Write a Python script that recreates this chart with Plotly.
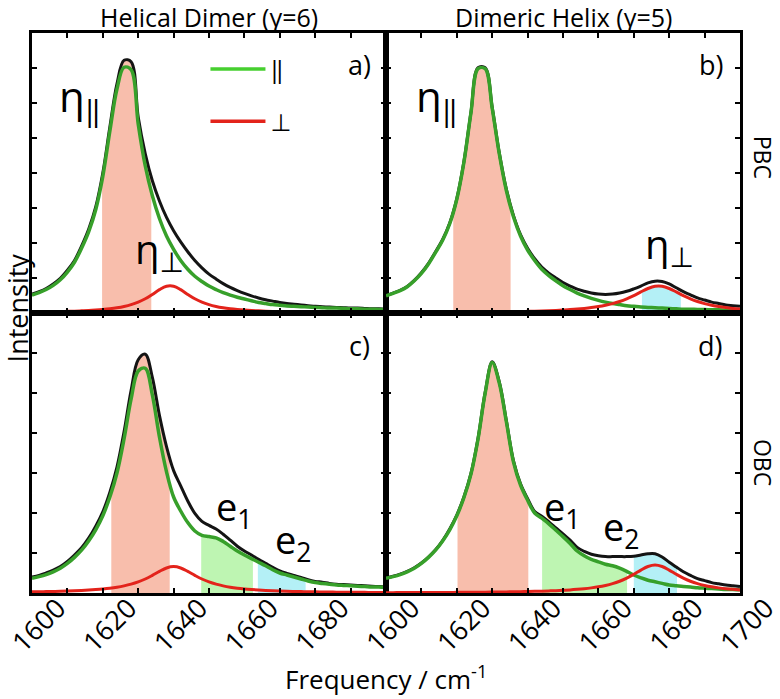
import numpy as np
import plotly.graph_objects as go
from plotly.subplots import make_subplots

# ---------------- data ----------------
freq = [1600, 1602, 1604, 1606, 1608, 1610, 1612, 1614, 1616, 1618,
        1620, 1622, 1624, 1626, 1628, 1630, 1632, 1634, 1636, 1638,
        1640, 1642, 1644, 1646, 1648, 1650, 1652, 1654, 1656, 1658,
        1660, 1662, 1664, 1666, 1668, 1670, 1672, 1674, 1676, 1678,
        1680, 1682, 1684, 1686, 1688, 1690, 1692, 1694, 1696, 1698, 1700]

# a) Helical Dimer, PBC
green_a = [0.51, 0.58, 0.67, 0.79, 0.95, 1.17, 1.45, 1.85, 2.32, 2.95,
           3.90, 5.20, 6.40, 7.02, 6.95, 5.40, 4.20, 3.35, 2.70, 2.20,
           1.82, 1.50, 1.25, 1.05, 0.90, 0.77, 0.67, 0.58, 0.51, 0.45,
           0.40, 0.35, 0.30, 0.27, 0.24, 0.22, 0.20, 0.19, 0.18, 0.17,
           0.16, 0.15, 0.14, 0.14, 0.13, 0.12, 0.12, 0.11, 0.11, 0.10, 0.10]
red_a = [0.026, 0.030, 0.033, 0.037, 0.041, 0.047, 0.053, 0.062, 0.071, 0.084,
         0.100, 0.121, 0.149, 0.187, 0.239, 0.310, 0.406, 0.531, 0.667, 0.766,
         0.766, 0.667, 0.531, 0.406, 0.310, 0.239, 0.187, 0.149, 0.121, 0.100,
         0.084, 0.071, 0.061, 0.053, 0.046, 0.041, 0.036, 0.033, 0.029, 0.026,
         0.024, 0.022, 0.020, 0.018, 0.017, 0.016, 0.015, 0.014, 0.013, 0.012, 0.011]
black_a = [0.54, 0.61, 0.70, 0.83, 0.99, 1.22, 1.50, 1.91, 2.39, 3.03,
           4.00, 5.32, 6.55, 7.22, 7.18, 5.60, 4.55, 3.78, 3.20, 2.73,
           2.35, 2.03, 1.75, 1.50, 1.29, 1.11, 0.97, 0.84, 0.73, 0.64,
           0.56, 0.49, 0.43, 0.38, 0.34, 0.30, 0.27, 0.25, 0.23, 0.21,
           0.19, 0.18, 0.17, 0.16, 0.15, 0.14, 0.14, 0.13, 0.12, 0.12, 0.11]

# b) Dimeric Helix, PBC
green_b = [0.49, 0.56, 0.64, 0.75, 0.92, 1.13, 1.40, 1.73, 2.08, 2.55,
           3.25, 4.30, 5.72, 6.98, 6.98, 5.85, 4.55, 3.50, 2.75, 2.20,
           1.80, 1.50, 1.25, 1.07, 0.92, 0.78, 0.67, 0.57, 0.49, 0.42,
           0.36, 0.31, 0.27, 0.24, 0.21, 0.19, 0.17, 0.16, 0.15, 0.14,
           0.13, 0.12, 0.11, 0.11, 0.10, 0.10, 0.09, 0.09, 0.08, 0.08, 0.08]
red_b = [0.012, 0.012, 0.013, 0.014, 0.014, 0.015, 0.016, 0.017, 0.018, 0.019,
         0.021, 0.022, 0.024, 0.026, 0.028, 0.030, 0.033, 0.036, 0.039, 0.043,
         0.048, 0.053, 0.059, 0.066, 0.075, 0.085, 0.097, 0.112, 0.131, 0.154,
         0.183, 0.221, 0.268, 0.329, 0.406, 0.499, 0.603, 0.700, 0.762, 0.762,
         0.700, 0.603, 0.499, 0.406, 0.329, 0.268, 0.221, 0.183, 0.154, 0.131, 0.112]
black_b = [0.50, 0.57, 0.65, 0.76, 0.93, 1.15, 1.42, 1.75, 2.10, 2.57,
           3.27, 4.32, 5.74, 7.01, 7.01, 5.88, 4.58, 3.54, 2.79, 2.24,
           1.85, 1.55, 1.31, 1.14, 1.00, 0.87, 0.77, 0.68, 0.62, 0.57,
           0.54, 0.53, 0.54, 0.57, 0.62, 0.69, 0.77, 0.86, 0.91, 0.90,
           0.83, 0.72, 0.61, 0.52, 0.43, 0.37, 0.31, 0.27, 0.23, 0.21, 0.19]

# c) Helical Dimer, OBC
green_c = [0.37, 0.41, 0.46, 0.53, 0.62, 0.74, 0.89, 1.07, 1.30, 1.58,
           1.93, 2.40, 3.00, 3.85, 4.85, 5.55, 5.62, 4.95, 3.90, 3.03,
           2.40, 2.05, 1.76, 1.55, 1.44, 1.41, 1.38, 1.29, 1.17, 1.05,
           0.95, 0.86, 0.77, 0.68, 0.58, 0.50, 0.45, 0.40, 0.35, 0.30,
           0.26, 0.24, 0.22, 0.20, 0.19, 0.18, 0.17, 0.16, 0.15, 0.15, 0.14]
red_c = [0.029, 0.031, 0.035, 0.039, 0.043, 0.049, 0.056, 0.064, 0.074, 0.086,
         0.101, 0.120, 0.145, 0.178, 0.221, 0.277, 0.350, 0.441, 0.540, 0.626,
         0.660, 0.626, 0.540, 0.441, 0.350, 0.277, 0.221, 0.178, 0.145, 0.120,
         0.101, 0.086, 0.074, 0.064, 0.056, 0.049, 0.043, 0.039, 0.035, 0.031,
         0.029, 0.026, 0.023, 0.021, 0.019, 0.018, 0.017, 0.016, 0.015, 0.014, 0.013]
black_c = [0.40, 0.44, 0.50, 0.57, 0.66, 0.79, 0.95, 1.13, 1.37, 1.67,
           2.03, 2.52, 3.15, 4.03, 5.07, 5.83, 5.97, 5.39, 4.44, 3.66,
           3.06, 2.68, 2.30, 1.99, 1.79, 1.69, 1.60, 1.47, 1.32, 1.17,
           1.05, 0.95, 0.84, 0.74, 0.64, 0.55, 0.49, 0.44, 0.39, 0.33,
           0.29, 0.27, 0.24, 0.22, 0.21, 0.20, 0.19, 0.18, 0.17, 0.16, 0.15]

# d) Dimeric Helix, OBC
green_d = [0.37, 0.41, 0.46, 0.53, 0.62, 0.74, 0.89, 1.07, 1.30, 1.58,
           1.93, 2.38, 2.97, 3.85, 4.99, 5.76, 5.25, 4.28, 3.28, 2.70,
           2.32, 2.00, 1.87, 1.73, 1.57, 1.41, 1.24, 1.05, 0.93, 0.84,
           0.78, 0.72, 0.68, 0.62, 0.54, 0.45, 0.38, 0.32, 0.28, 0.24,
           0.20, 0.18, 0.16, 0.15, 0.13, 0.12, 0.11, 0.10, 0.09, 0.09, 0.08]
red_d = [0.009, 0.009, 0.010, 0.010, 0.011, 0.011, 0.012, 0.013, 0.014, 0.015,
         0.016, 0.017, 0.018, 0.020, 0.021, 0.023, 0.025, 0.028, 0.030, 0.033,
         0.037, 0.041, 0.046, 0.052, 0.059, 0.068, 0.078, 0.091, 0.107, 0.128,
         0.154, 0.189, 0.234, 0.294, 0.371, 0.467, 0.573, 0.663, 0.700, 0.663,
         0.573, 0.467, 0.371, 0.294, 0.234, 0.189, 0.154, 0.128, 0.107, 0.091, 0.078]
black_d = [0.38, 0.42, 0.47, 0.54, 0.63, 0.75, 0.90, 1.08, 1.31, 1.60,
           1.95, 2.40, 2.99, 3.87, 5.01, 5.78, 5.28, 4.31, 3.31, 2.73,
           2.36, 2.04, 1.92, 1.78, 1.63, 1.48, 1.32, 1.14, 1.04, 0.97,
           0.93, 0.91, 0.91, 0.91, 0.91, 0.92, 0.95, 0.98, 0.98, 0.90,
           0.77, 0.65, 0.53, 0.44, 0.36, 0.31, 0.26, 0.23, 0.20, 0.18, 0.16]

# shaded bands: (start, end, curve the shading follows, colour name)
bands_a = [(1619.8, 1633.7, "black", "salmon")]
bands_b = [(1619.0, 1635.2, "black", "salmon"), (1672.3, 1683.3, "red", "cyan")]
bands_c = [(1622.4, 1638.9, "black", "salmon"), (1647.8, 1662.4, "green", "lime"),
           (1663.8, 1677.3, "green", "cyan")]
bands_d = [(1620.2, 1640.2, "black", "salmon"), (1644.1, 1668.1, "green", "lime"),
           (1670.0, 1682.2, "black", "cyan")]

x_tick_vals_left = [1600, 1620, 1640, 1660, 1680]
x_tick_vals_right = [1600, 1620, 1640, 1660, 1680, 1700]
col_titles = ["Helical Dimer (\u03b3=6)", "Dimeric Helix (\u03b3=5)"]
row_titles = ["PBC", "OBC"]
panel_tags = ["a)", "b)", "c)", "d)"]
legend_names = ["\u2016", "\u22a5"]

# ---------------- styling ----------------
FONT = "Open Sans, Noto Sans, DejaVu Sans, sans-serif"
C_GREEN = "#37a02a"
C_GREEN_LEG = "#46cf2f"
C_RED = "#e3231b"
C_BLACK = "#141414"
FILLS = {"salmon": "rgba(248,190,172,1)", "lime": "rgba(190,245,178,1)",
         "cyan": "rgba(180,240,246,1)"}

fig = make_subplots(rows=2, cols=2, horizontal_spacing=0, vertical_spacing=0)

panels = [
    (1, 1, green_a, red_a, black_a, bands_a),
    (1, 2, green_b, red_b, black_b, bands_b),
    (2, 1, green_c, red_c, black_c, bands_c),
    (2, 2, green_d, red_d, black_d, bands_d),
]

for row, col, g, r, k, bands in panels:
    curves = {"green": g, "red": r, "black": k}
    for lo, hi, top, cname in bands:
        yy = curves[top]
        xs = [lo] + [f for f in freq if lo < f < hi] + [hi]
        ys = ([float(np.interp(lo, freq, yy))]
              + [v for f, v in zip(freq, yy) if lo < f < hi]
              + [float(np.interp(hi, freq, yy))])
        fig.add_trace(go.Scatter(x=xs, y=ys, mode="lines", fill="tozeroy",
                                 fillcolor=FILLS[cname],
                                 line=dict(width=0, shape="spline", color=FILLS[cname]),
                                 showlegend=False, hoverinfo="skip"), row=row, col=col)
    fig.add_trace(go.Scatter(x=freq, y=k, mode="lines",
                             line=dict(color=C_BLACK, width=3, shape="spline"),
                             showlegend=False), row=row, col=col)
    fig.add_trace(go.Scatter(x=freq, y=g, mode="lines",
                             line=dict(color=C_GREEN, width=3.5, shape="spline"),
                             showlegend=False), row=row, col=col)
    fig.add_trace(go.Scatter(x=freq, y=r, mode="lines",
                             line=dict(color=C_RED, width=3, shape="spline"),
                             showlegend=False), row=row, col=col)

# legend entries
fig.add_trace(go.Scatter(x=[None], y=[None], mode="lines", name=legend_names[0],
                         legendgroup="g1", line=dict(color=C_GREEN_LEG, width=3.5)),
              row=1, col=1)
fig.add_trace(go.Scatter(x=[None], y=[None], mode="lines", name=legend_names[1],
                         legendgroup="g2", line=dict(color=C_RED, width=3.5)),
              row=1, col=1)

axis_common = dict(showline=True, linecolor="black", linewidth=2.5, mirror="allticks",
                   ticks="inside", ticklen=5, tickwidth=2, tickcolor="black",
                   showgrid=False, zeroline=False, automargin=False)

for row in (1, 2):
    for col in (1, 2):
        fig.update_xaxes(range=[1600, 1700],
                         tickvals=x_tick_vals_left if col == 1 else x_tick_vals_right,
                         minor=dict(dtick=10, ticks="inside", ticklen=5, tickwidth=2,
                                    tickcolor="black", showgrid=False),
                         showticklabels=(row == 2), tickangle=-45,
                         ticklabelshift=26, ticklabelstandoff=-14,
                         ticklabeloverflow="allow",
                         tickfont=dict(size=27, color="black", family=FONT),
                         row=row, col=col, **axis_common)
        if row == 1:
            fig.update_yaxes(range=[0, 8], tickvals=[1, 2, 3, 4, 5, 6, 7],
                             showticklabels=False, row=row, col=col, **axis_common)
        else:
            fig.update_yaxes(range=[0, 7], tickvals=[1, 2, 3, 4, 5, 6],
                             showticklabels=False, row=row, col=col, **axis_common)

ann = []
# column titles
for i, t in enumerate(col_titles):
    ann.append(dict(text=t, x=0.25 + 0.5 * i, y=1.0286, xref="paper", yref="paper",
                    xanchor="center", yanchor="middle", showarrow=False,
                    font=dict(size=25, color="black", family=FONT)))
# row titles
for i, t in enumerate(row_titles):
    ann.append(dict(text=t, x=1.0325, y=0.779 if i == 0 else 0.234, xref="paper",
                    yref="paper", textangle=90, xanchor="center", yanchor="middle",
                    showarrow=False, font=dict(size=23, color="black", family=FONT)))
# axis titles
ann.append(dict(text="Intensity", x=-0.0212, y=0.51, xref="paper", yref="paper",
                textangle=-90, xanchor="center", yanchor="middle", showarrow=False,
                font=dict(size=27, color="black", family=FONT)))
ann.append(dict(text="Frequency / cm<sup>-1</sup>", x=0.5, y=-0.152, xref="paper",
                yref="paper", xanchor="center", yanchor="middle", showarrow=False,
                font=dict(size=26, color="black", family=FONT)))
# panel tags
tag_pos = [("x", "y", 1692.5, 7.1), ("x2", "y2", 1691.8, 7.1),
           ("x3", "y3", 1692.5, 6.2), ("x4", "y4", 1691.5, 6.2)]
for (xr, yr, xv, yv), t in zip(tag_pos, panel_tags):
    ann.append(dict(text=t, x=xv, y=yv, xref=xr, yref=yr, xanchor="center",
                    yanchor="middle", showarrow=False,
                    font=dict(size=27, color="black", family=FONT)))
# peak labels
peak_labels = [
    ("x", "y", 1607.1, 5.71, "\u03b7<sub>\u2016</sub>", 42),
    ("x", "y", 1628.6, 1.43, "\u03b7<sub>\u22a5</sub>", 40),
    ("x2", "y2", 1607.9, 5.71, "\u03b7<sub>\u2016</sub>", 42),
    ("x2", "y2", 1672.7, 1.57, "\u03b7<sub>\u22a5</sub>", 40),
    ("x3", "y3", 1651.3, 1.83, "e<sub>1</sub>", 38),
    ("x3", "y3", 1668.0, 1.00, "e<sub>2</sub>", 38),
    ("x4", "y4", 1644.2, 1.83, "e<sub>1</sub>", 38),
    ("x4", "y4", 1660.6, 1.33, "e<sub>2</sub>", 38),
]
for xr, yr, xv, yv, t, s in peak_labels:
    ann.append(dict(text=t, x=xv, y=yv, xref=xr, yref=yr, xanchor="left",
                    yanchor="bottom", yshift=-19, showarrow=False,
                    font=dict(size=s, color="black", family=FONT)))

fig.update_layout(
    width=780, height=699,
    margin=dict(l=32, r=40, t=33, b=106, autoexpand=False),
    plot_bgcolor="white", paper_bgcolor="white",
    font=dict(family=FONT, color="black"),
    annotations=ann,
    showlegend=True,
    legend=dict(x=0.245, y=0.975, xanchor="left", yanchor="top",
                bgcolor="rgba(0,0,0,0)", font=dict(size=24, color="black", family=FONT),
                itemwidth=55, tracegroupgap=18),
    hovermode=False,
)

fig.write_html("out.html", config={"displayModeBar": False},
               post_script="document.body.style.margin='0';document.body.style.overflow='hidden';")
